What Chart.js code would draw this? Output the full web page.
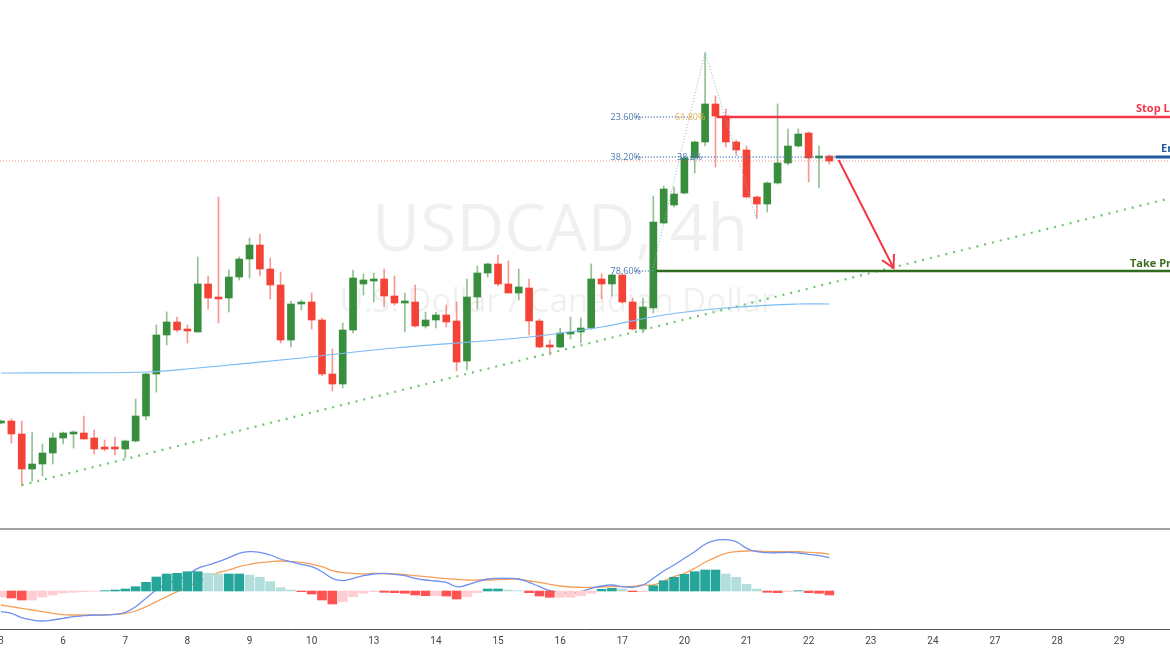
<!DOCTYPE html>
<html>
<head>
<meta charset="utf-8">
<script src="https://cdn.jsdelivr.net/npm/chart.js@4.4.0/dist/chart.umd.min.js"></script>
<style>
  html, body { margin: 0; padding: 0; background: #fff; }
  canvas { display: block; }
</style>
</head>
<body>
<canvas id="chart" width="1170" height="650"></canvas>
<script>
// 4h candles, USDCAD
const openP  = [1.3377,1.3379,1.3366,1.3331,1.3336,1.3347,1.3362,1.3366,1.3367,1.3362,1.3352,1.3352,1.3351,1.3359,1.3384,1.3426,1.3465,1.3478,1.3471,1.3468,
                1.3516,1.3503,1.3502,1.3523,1.3541,1.3555,1.3531,1.3515,1.3460,1.3496,1.3498,1.3480,1.3426,1.3416,1.3470,1.3516,1.3519,1.3521,1.3504,1.3497,
                1.3498,1.3474,1.3480,1.3485,1.3479,1.3439,1.3503,1.3527,1.3536,1.3516,1.3507,1.3512,1.3479,1.3454,1.3453,1.3466,1.3468,1.3472,1.3521,1.3516,
                1.3525,1.3498,1.3471,1.3492,1.3577,1.3595,1.3607,1.3642,1.3658,1.3696,1.3684,1.3658,1.3650,1.3603,1.3596,1.3617,1.3637,1.3654,1.3667,1.3642,1.3644];
const highP  = [1.3380,1.3381,1.3379,1.3368,1.3356,1.3367,1.3368,1.3369,1.3384,1.3370,1.3360,1.3363,1.3360,1.3401,1.3427,1.3475,1.3488,1.3483,1.3475,1.3543,
                1.3524,1.3603,1.3530,1.3543,1.3562,1.3566,1.3542,1.3528,1.3499,1.3500,1.3507,1.3482,1.3451,1.3477,1.3530,1.3526,1.3527,1.3531,1.3524,1.3507,
                1.3515,1.3488,1.3488,1.3495,1.3498,1.3521,1.3534,1.3537,1.3545,1.3539,1.3531,1.3521,1.3481,1.3460,1.3472,1.3483,1.3482,1.3536,1.3526,1.3526,
                1.3526,1.3502,1.3502,1.3604,1.3614,1.3613,1.3643,1.3659,1.3747,1.3704,1.3691,1.3660,1.3654,1.3604,1.3618,1.3696,1.3671,1.3671,1.3668,1.3654,1.3645];
const lowP   = [1.3376,1.3357,1.3314,1.3319,1.3324,1.3336,1.3356,1.3352,1.3361,1.3346,1.3349,1.3345,1.3342,1.3358,1.3380,1.3408,1.3455,1.3468,1.3457,1.3468,
                1.3491,1.3477,1.3488,1.3520,1.3522,1.3524,1.3501,1.3457,1.3453,1.3490,1.3471,1.3424,1.3409,1.3412,1.3467,1.3505,1.3498,1.3493,1.3495,1.3468,
                1.3473,1.3472,1.3472,1.3473,1.3429,1.3430,1.3491,1.3523,1.3514,1.3507,1.3500,1.3465,1.3452,1.3445,1.3452,1.3461,1.3457,1.3471,1.3501,1.3504,
                1.3497,1.3470,1.3467,1.3487,1.3576,1.3593,1.3606,1.3627,1.3654,1.3633,1.3653,1.3645,1.3602,1.3582,1.3588,1.3616,1.3635,1.3653,1.3618,1.3612,1.3636];
const closeP = [1.3379,1.3366,1.3331,1.3336,1.3347,1.3362,1.3367,1.3367,1.3361,1.3351,1.3351,1.3351,1.3359,1.3384,1.3426,1.3465,1.3478,1.3470,1.3469,1.3516,
                1.3502,1.3501,1.3523,1.3541,1.3555,1.3531,1.3515,1.3460,1.3496,1.3498,1.3480,1.3426,1.3416,1.3470,1.3522,1.3520,1.3520,1.3504,1.3497,1.3498,
                1.3474,1.3480,1.3485,1.3478,1.3438,1.3503,1.3527,1.3536,1.3516,1.3507,1.3513,1.3479,1.3453,1.3453,1.3467,1.3468,1.3472,1.3521,1.3516,1.3525,
                1.3498,1.3471,1.3493,1.3578,1.3611,1.3606,1.3642,1.3658,1.3696,1.3684,1.3658,1.3650,1.3603,1.3596,1.3617,1.3637,1.3654,1.3666,1.3642,1.3643,1.3639];

// moving average (read at a few candles)
const maIdx = [0, 14, 19, 29, 38, 51, 58, 64, 70, 77, 80];
const maVal = [1.3427,1.3428,1.3432,1.3442,1.3452,1.3463,1.3473,1.3485,1.3492,1.3496,1.3496];

// MACD panel
const macdHist = [-6,-7,-9,-9,-6,-4,-2,-1.3,-0.7,-0.3,0.3,1,2,4.3,8.7,14,17,17.7,19.3,19.3,
                  17.7,17,17,17,16,13.7,9.3,3.3,1,-0.7,-3,-9,-13,-10.7,-5.7,-2.3,-0.7,-1.3,-1.7,-2.3,
                  -4,-4.7,-4.7,-5,-8,-5.7,-1.7,2,2,1,0.3,-1.7,-5,-6.3,-6.3,-6.3,-4.7,-2.3,1.7,2.7,
                  2,-0.7,-0.7,5.3,10.3,13.7,16.7,19.3,21,21,17,13.7,6.7,2,-1.3,-1.7,-0.7,0.3,-1.7,-2.3,-4];
const macdLine = [-20.7,-22.3,-26.7,-29,-30,-29,-27.3,-25.7,-24.7,-24,-24,-23.3,-21.3,-15.7,-7.3,1,6.7,11,16,22.7,
                  26,29.3,33.3,37.7,39.3,38.7,36,32,29.3,26.7,24.3,19.3,12.7,10.3,12.7,15.3,17,17.7,16.7,15.3,
                  12.7,11,10,8.7,4.3,6,9.3,12,12.7,12.7,12,8.7,4.3,0.3,-1.3,-2.3,-0.7,2.7,5,6,
                  4.3,3.7,6,12.7,20,26,32.7,39.3,46.7,50.7,51.3,49.3,42.7,39.3,38.3,38.3,38.7,38,36.7,35.3,33.3];
const signalLine = [-14,-15.7,-17.3,-19,-20.7,-22.3,-23.7,-24,-24,-24,-24,-23.3,-22.3,-20,-15.7,-10.7,-5.7,-0.7,4.3,9.3,
                    14.3,18.3,21,24.3,26.7,28.3,29.3,30,29.3,28.7,26.7,24.3,20.3,18.3,17.7,17,17.7,17.3,17,16.3,
                    15.3,14.3,13.3,12.3,11.7,11,11,11,11.3,11.7,11.7,10,8.7,6.7,5,4,3.7,3.7,4,4.3,
                    4.3,4.7,6,6,10,14.3,17.7,22.7,28.7,33.7,37.7,39.3,40,40,39.3,39.3,39.3,39.3,38.7,38,37];

const dayLabels = ['3','6','7','8','9','10','13','14','15','16','17','20','21','22','23','24','27','28','29'];
const dayTicks  = dayLabels.map((d, i) => i * 6);

// trade setup
const trendFrom = [2, 1.3315];
const trendTo   = [113, 1.3602];
const zigzag    = [[62.9, 1.3529], [68, 1.3748], [73, 1.3580]];
const fib236 = 1.3683, fib382 = 1.3643, fib786 = 1.3529;
const stopLoss = 1.3683, entry = 1.3643, takeProfit = 1.3529, lastPrice = 1.3639;
const arrowFrom = [80.9, 1.3640], arrowTo = [86.2, 1.3532];

const idx = openP.map((_, i) => i);
const up = idx.map(i => closeP[i] >= openP[i]);
const GREEN = '#388e3c', RED = '#f44336';

const histColors = macdHist.map((v, i) => {
  const prev = i > 0 ? macdHist[i - 1] : v;
  if (v >= 0) return v >= prev ? '#26a69a' : '#b2dfdb';
  return v < prev ? '#ff5252' : '#ffcdd2';
});

const overlay = {
  id: 'overlay',
  beforeDatasetsDraw(chart) {
    const { ctx } = chart;
    ctx.save();
    ctx.fillStyle = 'rgba(0,0,0,0.06)';
    ctx.textAlign = 'center';
    ctx.textBaseline = 'middle';
    ctx.font = '66px "Open Sans", sans-serif';
    ctx.fillText('USDCAD, 4h', 560, 232);
    ctx.font = '33px "Open Sans", sans-serif';
    ctx.fillText('U.S. Dollar / Canadian Dollar', 557, 303);
    ctx.restore();
  },
  afterDatasetsDraw(chart) {
    const { ctx, chartArea: a, scales: { x, y, y2 } } = chart;
    const px = v => x.getPixelForValue(v), py = v => y.getPixelForValue(v);
    ctx.save();
    // panel separator
    const sep = y2.getPixelForValue(62);
    ctx.strokeStyle = '#444';
    ctx.lineWidth = 1;
    ctx.beginPath(); ctx.moveTo(a.left, sep); ctx.lineTo(a.right, sep); ctx.stroke();

    // last price dotted line
    ctx.setLineDash([1, 2]);
    ctx.strokeStyle = 'rgba(244,67,54,0.6)';
    ctx.beginPath(); ctx.moveTo(a.left, py(lastPrice)); ctx.lineTo(a.right, py(lastPrice)); ctx.stroke();

    // fib levels
    ctx.strokeStyle = '#4a78b0';
    ctx.lineWidth = 1.5;
    [[fib236, 61.3, 66.8], [fib382, 61.3, 81], [fib786, 61.3, 63]].forEach(([v, s, e]) => {
      ctx.beginPath(); ctx.moveTo(px(s), py(v)); ctx.lineTo(px(e), py(v)); ctx.stroke();
    });
    ctx.setLineDash([]);

    // stop / entry / take profit
    ctx.lineWidth = 2.5;
    ctx.strokeStyle = '#f23645';
    ctx.beginPath(); ctx.moveTo(px(69.1), py(stopLoss)); ctx.lineTo(a.right, py(stopLoss)); ctx.stroke();
    ctx.lineWidth = 3;
    ctx.strokeStyle = '#1f5a9c';
    ctx.beginPath(); ctx.moveTo(px(80.6), py(entry)); ctx.lineTo(a.right, py(entry)); ctx.stroke();
    ctx.lineWidth = 2.5;
    ctx.strokeStyle = '#2e6b1e';
    ctx.beginPath(); ctx.moveTo(px(63.3), py(takeProfit)); ctx.lineTo(a.right, py(takeProfit)); ctx.stroke();

    ctx.font = 'bold 11px "Open Sans", sans-serif';
    ctx.textBaseline = 'alphabetic';
    ctx.textAlign = 'left';
    ctx.fillStyle = '#f23645'; ctx.fillText('Stop Loss', 1136, py(stopLoss) - 5);
    ctx.fillStyle = '#1f5a9c'; ctx.fillText('Entry', 1161, py(entry) - 5);
    ctx.fillStyle = '#3b6d22'; ctx.fillText('Take Profit', 1130, py(takeProfit) - 4);

    ctx.font = '9px "Open Sans", sans-serif';
    ctx.textBaseline = 'middle';
    ctx.textAlign = 'right';
    ctx.fillStyle = '#4a78b0';
    ctx.fillText('23.60%', 641, py(fib236));
    ctx.fillText('38.20%', 641, py(fib382));
    ctx.fillText('78.60%', 641, py(fib786));
    ctx.textAlign = 'left';
    ctx.fillStyle = '#e0b050'; ctx.fillText('61.80%', 675, py(fib236));
    ctx.fillStyle = '#4a78b0'; ctx.fillText('38.2%', 677, py(fib382));

    // arrow
    const x1 = px(arrowFrom[0]), y1 = py(arrowFrom[1]), x2 = px(arrowTo[0]), y2p = py(arrowTo[1]);
    ctx.strokeStyle = '#f23645';
    ctx.lineWidth = 2;
    ctx.beginPath(); ctx.moveTo(x1, y1); ctx.lineTo(x2, y2p); ctx.stroke();
    const ang = Math.atan2(y2p - y1, x2 - x1);
    ctx.beginPath();
    ctx.moveTo(x2 - 14 * Math.cos(ang - 0.5), y2p - 14 * Math.sin(ang - 0.5));
    ctx.lineTo(x2, y2p);
    ctx.lineTo(x2 - 14 * Math.cos(ang + 0.5), y2p - 14 * Math.sin(ang + 0.5));
    ctx.stroke();
    ctx.restore();
  }
};

new Chart(document.getElementById('chart'), {
  data: {
    datasets: [
      { type: 'bar', label: 'hist', yAxisID: 'y2', grouped: false, barThickness: 9,
        data: idx.map(i => ({ x: i, y: macdHist[i] })), backgroundColor: histColors },
      { type: 'line', label: 'macd', yAxisID: 'y2', data: idx.map(i => ({ x: i, y: macdLine[i] })),
        borderColor: '#6d8ff0', borderWidth: 1.3, pointRadius: 0, tension: 0.4 },
      { type: 'line', label: 'signal', yAxisID: 'y2', data: idx.map(i => ({ x: i, y: signalLine[i] })),
        borderColor: '#f5a05a', borderWidth: 1.3, pointRadius: 0, tension: 0.4 },
      { type: 'line', label: 'ma', yAxisID: 'y', data: maIdx.map((k, i) => ({ x: k, y: maVal[i] })),
        borderColor: '#7cbcf5', borderWidth: 1.2, pointRadius: 0, tension: 0.4 },
      { type: 'line', label: 'trend', yAxisID: 'y', data: [{ x: trendFrom[0], y: trendFrom[1] }, { x: trendTo[0], y: trendTo[1] }],
        borderColor: '#6cc870', borderWidth: 2.2, borderDash: [2, 6], pointRadius: 0 },
      { type: 'line', label: 'zigzag', yAxisID: 'y', data: zigzag.map(p => ({ x: p[0], y: p[1] })),
        borderColor: '#8fb0d8', borderWidth: 1, borderDash: [1, 2], pointRadius: 0 },
      { type: 'bar', label: 'wick', yAxisID: 'y', grouped: false, barThickness: 1,
        data: idx.map(i => ({ x: i, y: [lowP[i], highP[i]] })),
        backgroundColor: idx.map(i => up[i] ? 'rgba(56,142,60,0.55)' : 'rgba(244,67,54,0.55)') },
      { type: 'bar', label: 'body', yAxisID: 'y', grouped: false, barThickness: 7, minBarLength: 2,
        data: idx.map(i => ({ x: i, y: [openP[i], closeP[i]] })),
        backgroundColor: idx.map(i => up[i] ? GREEN : RED) }
    ]
  },
  options: {
    responsive: false,
    animation: false,
    layout: { padding: 0 },
    plugins: { legend: { display: false }, tooltip: { enabled: false } },
    scales: {
      x: {
        type: 'linear', min: -0.1, max: 112.9, offset: false,
        grid: { display: false, drawTicks: false },
        border: { display: true, color: '#555', width: 1 },
        afterBuildTicks: s => { s.ticks = dayTicks.map(v => ({ value: v })); },
        afterFit: s => { s.height = 21; s.paddingLeft = 0; s.paddingRight = 0; },
        ticks: { autoSkip: false, maxRotation: 0, padding: 6, color: '#444',
                 font: { size: 10, family: 'Roboto' },
                 callback: v => dayLabels[dayTicks.indexOf(v)] }
      },
      y: { display: false, min: 1.3171, max: 1.3800 },
      y2: { display: false, min: -38, max: 591 }
    }
  },
  plugins: [overlay]
});
</script>
</body>
</html>
